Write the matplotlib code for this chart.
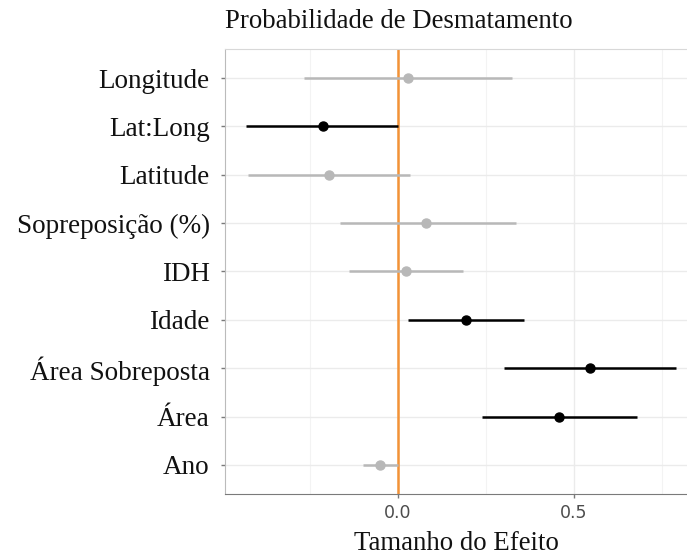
import matplotlib.pyplot as plt
from matplotlib.ticker import MultipleLocator

# data, bottom to top
labels = ["Ano", "Área", "Área Sobreposta", "Idade", "IDH",
          "Sopreposição (%)", "Latitude", "Lat:Long", "Longitude"]
estimate = [-0.05, 0.457, 0.545, 0.193, 0.023, 0.080, -0.196, -0.214, 0.028]
lower = [-0.098, 0.240, 0.300, 0.028, -0.139, -0.165, -0.426, -0.430, -0.267]
upper = [0.000, 0.678, 0.790, 0.358, 0.185, 0.335, 0.034, 0.000, 0.325]
significant = [False, True, True, True, False, False, False, True, False]

SERIF = ["Liberation Serif", "DejaVu Serif"]
SIG = "#000000"
NONSIG = "#B8B8B8"
ORANGE = "#F39237"
GRID = "#EBEBEB"
AXIS = "#7A7A7A"

fig = plt.figure(figsize=(6.87, 5.55), dpi=100)
ax = fig.add_axes([0.3275, 0.11, 0.6725, 0.8017])

ax.axvline(0, color=ORANGE, linewidth=1.8, zorder=2)

for i, (est, lo, hi, sig) in enumerate(zip(estimate, lower, upper, significant)):
    y = i + 1
    color = SIG if sig else NONSIG
    ax.plot([lo, hi], [y, y], color=color, linewidth=1.8, solid_capstyle="butt", zorder=3)
    ax.plot(est, y, "o", color=color, markersize=6.5, zorder=4)

ax.set_xlim(-0.491, 0.821)
ax.set_ylim(0.4, 9.6)
ax.set_yticks(range(1, len(labels) + 1), labels)
ax.xaxis.set_major_locator(MultipleLocator(0.5))
ax.xaxis.set_minor_locator(MultipleLocator(0.25))

ax.grid(which="major", color=GRID, linewidth=1.0)
ax.grid(which="minor", axis="x", color="#F3F3F3", linewidth=0.8)
ax.set_axisbelow(True)

for lab in ax.get_yticklabels():
    lab.set_fontfamily(SERIF)
    lab.set_fontsize(19.5)
    lab.set_color("#111111")
for lab in ax.get_xticklabels():
    lab.set_fontsize(12.5)
    lab.set_color("#4D4D4D")

ax.tick_params(axis="both", which="major", length=3, color=AXIS, width=1)
ax.tick_params(axis="x", which="minor", length=0)
ax.tick_params(axis="y", pad=8)
ax.tick_params(axis="x", pad=4)

ax.spines["right"].set_visible(False)
ax.spines["top"].set_color("#D8D8D8")
ax.spines["left"].set_color("#BBBBBB")
ax.spines["bottom"].set_color(AXIS)

ax.set_xlabel("Tamanho do Efeito", fontfamily=SERIF, fontsize=19.3, color="#111111", labelpad=7)
fig.text(0.3275, 0.962, "Probabilidade de Desmatamento", fontfamily=SERIF,
         fontsize=19.3, color="#111111", ha="left", va="center")

fig.savefig("out.png", dpi=100, facecolor="white")
